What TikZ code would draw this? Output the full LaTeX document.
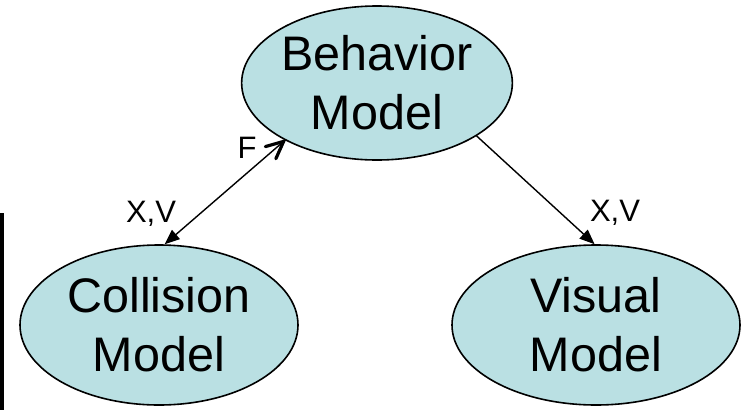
\documentclass[tikz,border=0pt]{standalone}
\usepackage{fontspec}
\setmainfont{Liberation Sans}
\usetikzlibrary{shapes.geometric,arrows.meta,calc}
\definecolor{modelfill}{HTML}{BAE0E3}
\tikzset{
  model/.style={ellipse, draw=black, line width=1.6pt, fill=modelfill,
    inner sep=0pt, align=center, font=\fontsize{48.5}{59}\selectfont},
  flow/.style={line width=1.4pt, draw=black},
  barb/.style={line width=3.2pt, line cap=round, line join=miter},
  lbl/.style={inner sep=0pt, font=\fontsize{31}{33}\selectfont},
  filledtip/.tip={Triangle[length=15pt,width=12pt]}
}
\begin{document}
\begin{tikzpicture}[x=1pt,y=-1pt]
  \useasboundingbox (0,0) rectangle (752,410);
  % margin bar on the left
  \fill[black] (0,213) rectangle (4,410);

  \node[model, minimum width=268pt, minimum height=154pt] (beh) at (377,83) {Behavior\\Model};
  \node[model, minimum width=278pt, minimum height=160pt] (col) at (159,325) {Collision\\Model};
  \node[model, minimum width=288pt, minimum height=160pt] (vis) at (596,325) {Visual\\Model};

  % two-way link: open barb at the behavior end, filled tip at the collision end
  \coordinate (ftip) at ($(beh.212)+(-1.5,1)$);
  \draw[flow, -{filledtip}] (ftip) -- (col.86);
  \draw[barb] ($(ftip)!19pt!-25:(col.86)$) -- (ftip) -- ($(ftip)!19pt!25:(col.86)$);

  \draw[flow, -{filledtip}] (beh.332) -- (vis.91);

  \node[lbl] (f) at (247,148) {F};
  \node[lbl] (xvl) at (151,214) {X,V};
  \node[lbl] (xvr) at (615,213) {X,V};
\end{tikzpicture}
\end{document}
